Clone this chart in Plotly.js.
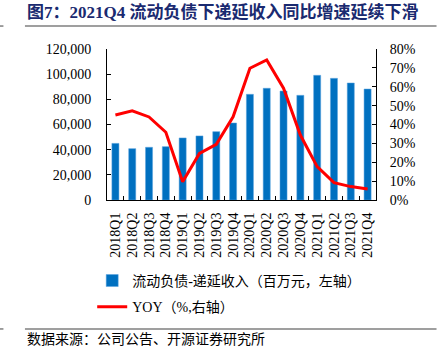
<!DOCTYPE html>
<html>
<head>
<meta charset="utf-8">
<script src="https://cdn.plot.ly/plotly-3.0.1.min.js"></script>
<style>html,body{margin:0;padding:0;background:#fff;}#chart{width:440px;height:348px;}</style>
</head>
<body>
<div id="chart"></div>
<script>
const categories = ["2018Q1","2018Q2","2018Q3","2018Q4","2019Q1","2019Q2","2019Q3","2019Q4","2020Q1","2020Q2","2020Q3","2020Q4","2021Q1","2021Q2","2021Q3","2021Q4"];
const deferredIncome = [45000,40800,41900,42400,49300,50900,54300,61200,84000,88800,86600,83200,99100,96700,93000,88200];
const yoy = [0.450,0.472,0.440,0.359,0.097,0.247,0.295,0.441,0.698,0.742,0.592,0.344,0.177,0.092,0.071,0.058];
const leftTicks = [0,20000,40000,60000,80000,100000,120000];
const leftTickText = ["0","20,000","40,000","60,000","80,000","100,000","120,000"];
const rightTicks = [0,0.1,0.2,0.3,0.4,0.5,0.6,0.7,0.8];
const rightTickText = ["0%","10%","20%","30%","40%","50%","60%","70%","80%"];

const serif = "Liberation Serif, 'Times New Roman', 'Noto Sans CJK SC', serif";
const tickFont = {family: serif, size: 14, color: "#000"};

const traces = [
  {type: "bar", x: categories, y: deferredIncome, name: "流动负债-递延收入（百万元，左轴）",
   marker: {color: "#0070C0", line: {color: "#5BA3DE", width: 0.5}}, yaxis: "y", legendgroup: "a"},
  {type: "scatter", mode: "lines", x: categories, y: yoy, name: "YOY（%,右轴）",
   line: {color: "#FF0000", width: 3}, yaxis: "y2", legendgroup: "b"}
];

const layout = {
  width: 440, height: 348,
  margin: {l: 107, r: 64, t: 49, b: 148},
  paper_bgcolor: "#fff", plot_bgcolor: "#fff",
  bargap: 0.58,
  showlegend: true,
  legend: {orientation: "v", x: -0.055, xanchor: "left", y: -0.43, yanchor: "top",
    font: {family: "Liberation Serif, 'Noto Sans CJK SC', serif", size: 14, color: "#000"},
    tracegroupgap: 5, itemwidth: 30, bgcolor: "rgba(0,0,0,0)"},
  xaxis: {type: "category", tickmode: "array", tickvals: categories, ticktext: categories,
    tickangle: -90, tickfont: tickFont, showline: true, linecolor: "#000", linewidth: 1,
    ticks: "inside", ticklen: 4, tickcolor: "#000", tickson: "boundaries", showgrid: false, zeroline: false,
    ticklabelstandoff: 6},
  yaxis: {range: [0, 120000], tickvals: leftTicks, ticktext: leftTickText, tickfont: tickFont,
    showline: true, linecolor: "#000", linewidth: 1, ticks: "inside", ticklen: 4, tickcolor: "#000",
    showgrid: false, zeroline: false, ticklabelstandoff: 12},
  yaxis2: {range: [0, 0.8], overlaying: "y", side: "right", tickvals: rightTicks, ticktext: rightTickText,
    tickfont: tickFont, showline: true, linecolor: "#000", linewidth: 1, ticks: "inside", ticklen: 4,
    tickcolor: "#000", showgrid: false, zeroline: false, ticklabelstandoff: 10},
  annotations: [
    {xref: "paper", yref: "paper", x: -0.305, y: 1.245, xanchor: "left", yanchor: "middle", showarrow: false,
     text: "<b>图7：2021Q4 流动负债下递延收入同比增速延续下滑</b>",
     font: {family: "Liberation Serif, 'Noto Sans CJK SC', serif", size: 17, color: "#1A2A70"}},
    {xref: "paper", yref: "paper", x: -0.305, y: -0.912, xanchor: "left", yanchor: "middle", showarrow: false,
     text: "数据来源：公司公告、开源证券研究所",
     font: {family: "'Noto Sans CJK SC', serif", size: 14, color: "#000"}}
  ],
  shapes: [
    {type: "line", xref: "paper", yref: "paper", x0: -0.305, x1: 1.225, y0: 1.152, y1: 1.152, line: {color: "#7f7f7f", width: 1.5}},
    {type: "line", xref: "paper", yref: "paper", x0: -0.40, x1: -0.385, y0: 1.152, y1: 1.152, line: {color: "#7f7f7f", width: 1.5}},
    {type: "line", xref: "paper", yref: "paper", x0: -0.305, x1: 1.225, y0: -0.854, y1: -0.854, line: {color: "#7f7f7f", width: 1.5}},
    {type: "line", xref: "paper", yref: "paper", x0: -0.40, x1: -0.385, y0: -0.854, y1: -0.854, line: {color: "#7f7f7f", width: 1.5}}
  ]
};

Plotly.newPlot("chart", traces, layout, {staticPlot: true, displayModeBar: false});
</script>
</body>
</html>
